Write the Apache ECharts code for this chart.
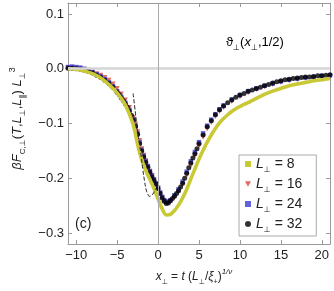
<!DOCTYPE html>
<html>
<head>
<meta charset="utf-8">
<script src="https://cdn.jsdelivr.net/npm/echarts@6/dist/echarts.min.js"></script>
<style>html,body{margin:0;padding:0;background:#fff}#c{width:334px;height:291px}</style>
</head>
<body>
<div id="c"></div>
<script>
// ---- data ----
const xTicks = [-10, -5, 0, 5, 10, 15, 20];
const yTicks = [-0.3, -0.2, -0.1, 0, 0.1];
const seriesNames = ['8', '16', '24', '32'];

const x8 = [-11,-10,-9,-8,-7,-6,-5,-4.5,-4,-3.5,-3,-2.5,-2,-1.5,-1,-0.5,0,0.5,1,1.5,2,2.5,3,3.5,4,4.5,5,5.5,6,6.5,7,7.5,8,8.5,9,9.5,10,10.5,11,11.5,12,13,14,15,16,17,18,19,20,21];
const y8 = [0.000,-0.001,-0.004,-0.009,-0.017,-0.029,-0.044,-0.054,-0.066,-0.083,-0.104,-0.138,-0.166,-0.186,-0.202,-0.219,-0.238,-0.256,-0.267,-0.266,-0.259,-0.249,-0.236,-0.220,-0.201,-0.183,-0.165,-0.149,-0.134,-0.121,-0.109,-0.099,-0.091,-0.084,-0.078,-0.073,-0.069,-0.065,-0.062,-0.058,-0.054,-0.047,-0.041,-0.036,-0.031,-0.028,-0.025,-0.022,-0.020,-0.018];

const x16 = [-11,-10.5,-10,-9.5,-9,-8.5,-8,-7.5,-7,-6.5,-6,-5.5,-5,-4.5,-4,-3.5,-3,-2.75,-2.5,-2.25,-2,-1.75,-1.5,-1.25,-1,-0.75,-0.5,-0.25,0,0.25,0.5,0.75,1,1.25,1.5,2,2.5,3,3.5,4,4.5,5,5.5,6,6.5,7,7.5,8,9,10,11,12,13,14,15,16,17,18,19,20,21];
const y16 = [0.002,0.002,0.001,0.000,-0.002,-0.003,-0.006,-0.009,-0.012,-0.016,-0.021,-0.028,-0.036,-0.046,-0.057,-0.071,-0.089,-0.101,-0.115,-0.131,-0.146,-0.158,-0.168,-0.178,-0.187,-0.195,-0.203,-0.211,-0.219,-0.227,-0.235,-0.241,-0.244,-0.244,-0.242,-0.235,-0.225,-0.212,-0.195,-0.177,-0.159,-0.141,-0.125,-0.110,-0.098,-0.087,-0.078,-0.071,-0.060,-0.051,-0.044,-0.038,-0.033,-0.029,-0.025,-0.022,-0.020,-0.018,-0.016,-0.015,-0.014];

const x24 = [-11,-10.5,-10,-9.5,-9,-8.5,-8,-7.5,-7,-6.5,-6,-5.5,-5,-4.5,-4,-3.5,-3,-2.75,-2.5,-2.25,-2,-1.75,-1.5,-1.25,-1,-0.75,-0.5,-0.25,0,0.25,0.5,0.75,1,1.25,1.5,2,2.5,3,3.5,4,4.5,5,5.5,6,6.5,7,7.5,8,9,10,11,12,13,14,15,16,17,18,19,20,21];
const y24 = [0.003,0.004,0.003,0.002,0.000,-0.003,-0.006,-0.010,-0.014,-0.019,-0.025,-0.032,-0.041,-0.051,-0.062,-0.075,-0.092,-0.104,-0.118,-0.134,-0.148,-0.159,-0.169,-0.178,-0.187,-0.195,-0.202,-0.209,-0.217,-0.226,-0.234,-0.240,-0.243,-0.243,-0.240,-0.231,-0.220,-0.206,-0.188,-0.169,-0.152,-0.134,-0.118,-0.104,-0.093,-0.083,-0.074,-0.067,-0.056,-0.048,-0.041,-0.036,-0.031,-0.027,-0.023,-0.020,-0.018,-0.016,-0.015,-0.013,-0.012];

const x32 = [-11,-10.5,-10,-9.5,-9,-8.5,-8,-7.5,-7,-6.5,-6,-5.5,-5,-4.75,-4.5,-4.25,-4,-3.75,-3.5,-3.25,-3,-2.75,-2.5,-2.25,-2,-1.75,-1.5,-1.25,-1,-0.75,-0.5,-0.25,0,0.25,0.5,0.75,1,1.25,1.5,1.75,2,2.25,2.5,2.75,3,3.25,3.5,3.75,4,4.25,4.5,4.75,5,5.5,6,6.5,7,7.5,8,8.5,9,9.5,10,10.5,11,11.5,12,12.5,13,13.5,14,14.5,15,15.5,16,16.5,17,17.5,18,18.5,19,19.5,20,20.5,21];
const y32 = [0.001,0.001,0.000,-0.001,-0.003,-0.005,-0.008,-0.012,-0.016,-0.021,-0.027,-0.034,-0.043,-0.047,-0.053,-0.058,-0.064,-0.070,-0.077,-0.085,-0.094,-0.106,-0.120,-0.137,-0.150,-0.161,-0.171,-0.180,-0.189,-0.197,-0.204,-0.211,-0.219,-0.228,-0.236,-0.242,-0.246,-0.245,-0.241,-0.237,-0.233,-0.228,-0.223,-0.216,-0.209,-0.200,-0.191,-0.181,-0.172,-0.163,-0.155,-0.146,-0.137,-0.121,-0.106,-0.095,-0.084,-0.075,-0.068,-0.062,-0.057,-0.052,-0.048,-0.045,-0.041,-0.039,-0.036,-0.034,-0.031,-0.029,-0.026,-0.024,-0.022,-0.020,-0.019,-0.018,-0.017,-0.016,-0.015,-0.015,-0.014,-0.013,-0.013,-0.012,-0.011];

// dashed scaling function (theta_perp)
const xTh = [-3.05,-2.85,-2.65,-2.45,-2.25,-2.05,-1.85,-1.65,-1.45,-1.25,-1.05,-0.85,-0.65,-0.45,-0.25];
const yTh = [-0.045,-0.070,-0.095,-0.120,-0.140,-0.161,-0.185,-0.205,-0.221,-0.229,-0.233,-0.232,-0.229,-0.224,-0.218];

// ---- chart ----
const FONT = '"Liberation Sans", "DejaVu Sans", sans-serif';
const TXT = '#222';
const AX = '#9a9a9a';
const pairs = (xs, ys) => xs.map((x, i) => [x, ys[i]]);
const minus = s => String(s).replace('-', '\u2212');
const yFmt = v => minus(v.toFixed(1));
const triDown = 'path://M0,0L10,0L5,9Z';

const richBase = (fs) => ({
  n: {fontFamily: FONT, fontSize: fs, color: TXT, lineHeight: fs + 6, verticalAlign: 'middle'},
  i: {fontFamily: FONT, fontSize: fs, fontStyle: 'italic', color: TXT, lineHeight: fs + 6, verticalAlign: 'middle'},
  s: {fontFamily: FONT, fontSize: Math.round(fs * 0.6), color: TXT, lineHeight: fs + 6, verticalAlign: 'bottom'},
  p: {fontFamily: FONT, fontSize: Math.round(fs * 0.65), fontStyle: 'italic', color: TXT, lineHeight: fs + 6, verticalAlign: 'top'},
  q: {fontFamily: FONT, fontSize: Math.round(fs * 0.7), color: TXT, lineHeight: fs + 6, verticalAlign: 'top'}
});

const baseX = {
  type: 'value', min: -11, max: 21,
  axisLine: {show: true, onZero: false, lineStyle: {color: AX, width: 1}},
  axisTick: {show: true, inside: true, length: 4, customValues: xTicks, lineStyle: {color: AX}},
  splitLine: {show: false}
};
const baseY = {
  type: 'value', min: -0.32, max: 0.12,
  axisLine: {show: true, onZero: false, lineStyle: {color: AX, width: 1}},
  axisTick: {show: true, inside: true, length: 4, customValues: yTicks, lineStyle: {color: AX}},
  splitLine: {show: false}
};

const graphics = [
  {id: 'theta', type: 'text', left: 226, top: 36, style: {
    text: '{n|ϑ}{s|⊥}{n|(}{i|x}{s|⊥}{n|,1/2)}', rich: richBase(13)}},
  {id: 'panel', type: 'text', left: 75, top: 217, style: {
    text: '(c)', font: '14px ' + FONT, fill: TXT}}
];

const chart = echarts.init(document.getElementById('c'));
chart.setOption({
  animation: false,
  grid: {left: 57, right: 4, top: 3, bottom: 42},
  xAxis: [
    Object.assign({}, baseX, {
      position: 'bottom',
      axisLabel: {customValues: xTicks, formatter: v => minus(v), color: TXT, fontSize: 13, fontFamily: FONT, margin: 5},
      name: '{i|x}{s|⊥}{n| = }{i|t}{n| (}{i|L}{s|⊥}{n|/}{i|ξ}{s|+}{n|)}{p|1/ν}',
      nameLocation: 'middle', nameGap: 24,
      nameTextStyle: {rich: richBase(12), padding: [0, 10, 0, 0]}
    }),
    Object.assign({}, baseX, {position: 'top', axisLabel: {show: false}})
  ],
  yAxis: [
    Object.assign({}, baseY, {
      position: 'left',
      axisLabel: {customValues: yTicks, formatter: yFmt, color: TXT, fontSize: 13, fontFamily: FONT, margin: 4},
      name: '{i|βF}{s|C,⊥}{n|(}{i|T}{n|,}{i|L}{s|⊥}{n|,}{i|L}{s|∥}{n|) }{i|L}{s|⊥}{q|3}',
      nameLocation: 'middle', nameRotate: 90, nameGap: 41,
      nameTextStyle: {rich: richBase(13), padding: [0, 0, 0, 10]}
    }),
    Object.assign({}, baseY, {position: 'right', axisLabel: {show: false}})
  ],
  legend: {
    orient: 'vertical', left: 239, top: 155,
    padding: [2, 14, 2, 6], itemGap: 3, itemWidth: 6, itemHeight: 6, itemTextGap: 6,
    borderColor: '#aaa', borderWidth: 1, borderRadius: 0, backgroundColor: '#fff',
    data: [
      {name: '8', icon: 'rect'},
      {name: '16', icon: triDown},
      {name: '24', icon: 'rect'},
      {name: '32', icon: 'circle'}
    ],
    formatter: n => '{i|L}{s|⊥}{n| = ' + n + '}',
    textStyle: {rich: richBase(14)}
  },
  graphic: graphics,
  series: [
    {
      type: 'line', data: [], silent: true,
      markLine: {
        silent: true, symbol: 'none', label: {show: false}, animation: false,
        data: [
          {yAxis: 0, lineStyle: {color: '#d6d6d6', width: 2.5, type: 'solid'}},
          {xAxis: 0, lineStyle: {color: '#a8a8a8', width: 1, type: 'solid'}}
        ]
      }
    },
    {
      name: '8', type: 'line', data: pairs(x8, y8), smooth: 0.3, showSymbol: false,
      lineStyle: {color: '#c9c935', width: 3.6}, itemStyle: {color: '#c9c935'}
    },
    {
      name: '16', type: 'scatter', data: pairs(x16, y16), symbol: triDown, symbolSize: 5,
      itemStyle: {color: '#d94545'}
    },
    {
      name: '24', type: 'scatter', data: pairs(x24, y24), symbol: 'rect', symbolSize: 4.5,
      itemStyle: {color: '#3a3ad4'}
    },
    {
      name: '32', type: 'scatter', data: pairs(x32, y32), symbol: 'circle', symbolSize: 5,
      itemStyle: {color: '#000'}
    },
    {
      name: 'theta', type: 'line', data: pairs(xTh, yTh), smooth: true, showSymbol: false,
      lineStyle: {color: '#222', width: 1, type: [4, 2]}
    }
  ]
});

// Safety net: if any y tick label did not get painted, add it at the axis scale position.
try {
  chart.getZr().refreshImmediately();
  const cv = document.querySelector('#c canvas');
  const ctx = cv.getContext('2d');
  const extra = [];
  yTicks.forEach(function (v) {
    const py = Math.round(chart.convertToPixel({yAxisIndex: 0}, v));
    const img = ctx.getImageData(28, Math.max(0, py - 6), 26, 12).data;
    let dark = 0;
    for (let i = 0; i < img.length; i += 4) {
      if (img[i + 3] > 100 && img[i] < 140) dark++;
    }
    if (dark < 6) {
      extra.push({
        id: 'ylab' + v, type: 'text', x: 57 - 4, y: py, z: 100,
        style: {text: yFmt(v), font: '13px ' + FONT, fill: TXT, align: 'right', verticalAlign: 'middle'}
      });
    }
  });
  if (extra.length) chart.setOption({graphic: graphics.concat(extra)});
} catch (e) {}
</script>
</body>
</html>
